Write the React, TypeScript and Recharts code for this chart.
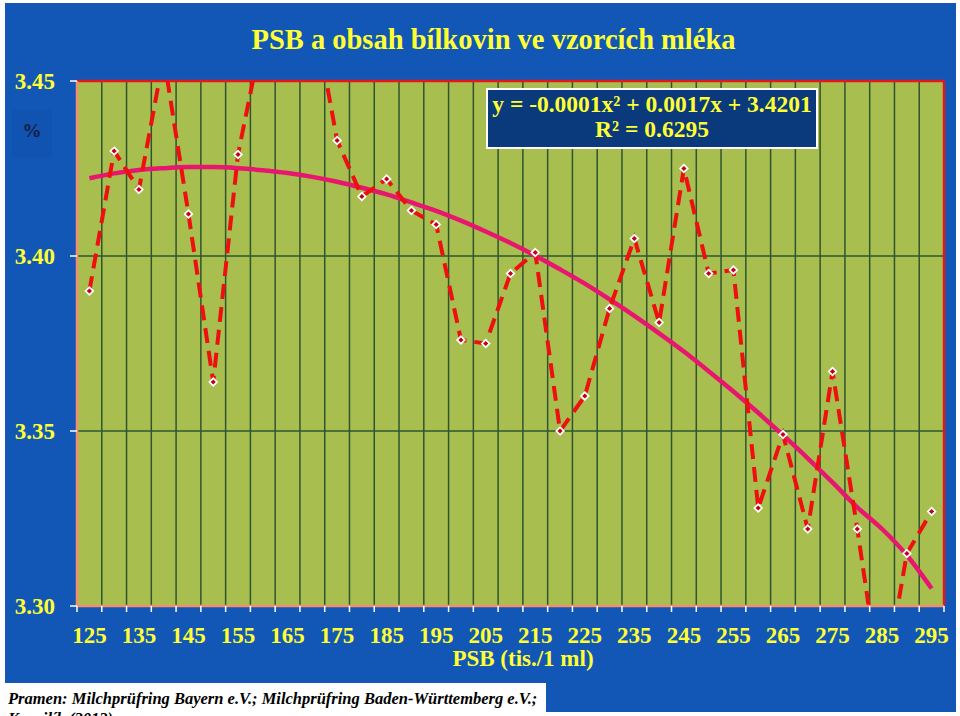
import { CartesianGrid, Line, LineChart, ReferenceLine, XAxis, YAxis } from 'recharts';

// PSB (tis./1 ml) – one category every 5
const psb = [
  125, 130, 135, 140, 145, 150, 155, 160, 165, 170, 175, 180, 185, 190, 195, 200, 205, 210,
  215, 220, 225, 230, 235, 240, 245, 250, 255, 260, 265, 270, 275, 280, 285, 290, 295,
];

// obsah bílkovin (%)
const protein = [
  3.39, 3.43, 3.419, 3.457, 3.412, 3.364, 3.429, 3.464, 3.47, 3.472, 3.433, 3.417, 3.422,
  3.413, 3.409, 3.376, 3.375, 3.395, 3.401, 3.35, 3.36, 3.385, 3.405, 3.381, 3.425, 3.395,
  3.396, 3.328, 3.349, 3.322, 3.367, 3.322, 3.274, 3.315, 3.327,
];

// polynomial trend line as drawn in the reference
const trend = [
  3.4222, 3.4236, 3.4246, 3.4251, 3.4254, 3.4254, 3.4251, 3.4245, 3.4237, 3.4226, 3.4212,
  3.4195, 3.4176, 3.4153, 3.4129, 3.4101, 3.407, 3.4037, 3.4001, 3.3962, 3.3921, 3.3876,
  3.3829, 3.3779, 3.3727, 3.3671, 3.3613, 3.3552, 3.3488, 3.3422, 3.3353, 3.3282, 3.322,
  3.3145, 3.305,
];

const xLabelTicks = [125, 135, 145, 155, 165, 175, 185, 195, 205, 215, 225, 235, 245, 255, 265, 275, 285, 295];
const yTicks = [3.3, 3.35, 3.4, 3.45];

const data = psb.map((x, i) => ({ psb: x, protein: protein[i], trend: trend[i] }));
const cellEdges = [...psb.map((x) => x - 2.5), psb[psb.length - 1] + 2.5];

const BLUE = '#1257b5';
const YELLOW = '#ffff33';
const GRID = '#2f5530';
const FONT = "'Liberation Serif', 'DejaVu Serif', 'Times New Roman', serif";

interface DotProps {
  cx?: number;
  cy?: number;
}

function DiamondDot({ cx, cy }: DotProps) {
  if (cx == null || cy == null) return null;
  const r = 5;
  return (
    <g>
      <polygon points={`${cx},${cy - r} ${cx + r},${cy} ${cx},${cy + r} ${cx - r},${cy}`} fill="#fff" />
      <polygon points={`${cx},${cy - 2.6} ${cx + 2.6},${cy} ${cx},${cy + 2.6} ${cx - 2.6},${cy}`} fill="#c00010" />
    </g>
  );
}

export default function App() {
  return (
    <div
      style={{
        position: 'absolute',
        left: 0,
        top: 0,
        width: 960,
        height: 716,
        background: '#fff',
        overflow: 'hidden',
        fontFamily: FONT,
      }}
    >
      <div style={{ position: 'absolute', left: 5, top: 3, width: 951, height: 680, background: BLUE }} />
      <div style={{ position: 'absolute', left: 546, top: 683, width: 410, height: 29, background: BLUE }} />
      <div style={{ position: 'absolute', left: 12, top: 110, width: 40, height: 48, background: '#1153b0' }} />
      <div
        style={{
          position: 'absolute',
          left: 12,
          top: 121,
          width: 40,
          textAlign: 'center',
          fontWeight: 'bold',
          fontSize: 19,
          lineHeight: '20px',
          color: '#141c40',
        }}
      >
        %
      </div>
      <div
        style={{
          position: 'absolute',
          left: 0,
          top: 25,
          width: 987,
          textAlign: 'center',
          fontWeight: 'bold',
          fontSize: 28.5,
          lineHeight: '30px',
          color: YELLOW,
          whiteSpace: 'nowrap',
        }}
      >
        PSB a obsah bílkovin ve vzorcích mléka
      </div>

      <LineChart
        width={960}
        height={716}
        data={data}
        margin={{ top: 81, right: 16, bottom: 72, left: 7 }}
        style={{ position: 'absolute', left: 0, top: 0 }}
      >
        <CartesianGrid fill="#a8bf50" fillOpacity={1} stroke={GRID} strokeWidth={1.5} />
        <XAxis
          dataKey="psb"
          type="number"
          domain={[122.5, 297.5]}
          ticks={cellEdges}
          interval={0}
          tickFormatter={() => ''}
          height={8}
          tickSize={6}
          tickLine={{ stroke: '#ffffff', strokeWidth: 1.5 }}
          axisLine={{ stroke: '#f58d6e', strokeWidth: 2.5 }}
        />
        <XAxis
          xAxisId="lbl"
          dataKey="psb"
          type="number"
          domain={[122.5, 297.5]}
          ticks={xLabelTicks}
          interval={0}
          height={30}
          tickLine={false}
          axisLine={false}
          tickMargin={7}
          tick={{ fill: YELLOW, fontSize: 23, fontWeight: 'bold', fontFamily: FONT }}
        />
        <YAxis
          domain={[3.3, 3.45]}
          ticks={yTicks}
          allowDataOverflow
          width={70}
          tickSize={7}
          tickMargin={15}
          tickFormatter={(v: number) => v.toFixed(2)}
          tickLine={{ stroke: '#ffffff', strokeWidth: 1.5 }}
          axisLine={{ stroke: '#f58d6e', strokeWidth: 2.5 }}
          tick={{ fill: YELLOW, fontSize: 23, fontWeight: 'bold', fontFamily: FONT }}
        />
        <ReferenceLine y={3.45} stroke="#e8141c" strokeWidth={2.5} />
        <ReferenceLine x={297.5} stroke="#e8141c" strokeWidth={2.5} />
        <Line
          type="monotone"
          dataKey="trend"
          stroke="#e8166e"
          strokeWidth={4.5}
          dot={false}
          activeDot={false}
          isAnimationActive={false}
        />
        <Line
          type="linear"
          dataKey="protein"
          stroke="#ee1010"
          strokeWidth={4}
          strokeDasharray="15 8"
          dot={<DiamondDot />}
          activeDot={false}
          isAnimationActive={false}
        />
      </LineChart>

      <div
        style={{
          position: 'absolute',
          left: 486,
          top: 88,
          width: 328,
          height: 55,
          background: '#0a3a7c',
          border: '2px solid #ffffff',
          color: YELLOW,
          fontWeight: 'bold',
          fontSize: 23.5,
          lineHeight: '25px',
          textAlign: 'center',
          paddingTop: 2,
          whiteSpace: 'nowrap',
        }}
      >
        <div>y = -0.0001x² + 0.0017x + 3.4201</div>
        <div>R² = 0.6295</div>
      </div>

      <div
        style={{
          position: 'absolute',
          left: 0,
          top: 647,
          width: 1046,
          textAlign: 'center',
          fontWeight: 'bold',
          fontSize: 23,
          lineHeight: '23px',
          color: YELLOW,
          whiteSpace: 'nowrap',
        }}
      >
        PSB (tis./1 ml)
      </div>

      <div
        style={{
          position: 'absolute',
          left: 8,
          top: 689,
          fontWeight: 'bold',
          fontStyle: 'italic',
          fontSize: 16.5,
          lineHeight: '20px',
          color: '#000',
          whiteSpace: 'nowrap',
        }}
      >
        Pramen: Milchprüfring Bayern e.V.; Milchprüfring Baden-Württemberg e.V.;
        <br />
        Kvapilík (2012)
      </div>
    </div>
  );
}
